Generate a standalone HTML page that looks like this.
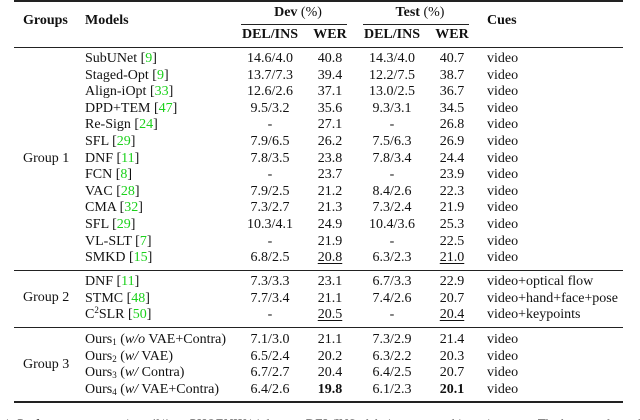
<!DOCTYPE html>
<html><head><meta charset="utf-8">
<style>
html,body{margin:0;padding:0;background:#fff;}
#t{position:relative;width:640px;height:420px;overflow:hidden;font-family:"Liberation Serif",serif;font-size:14px;color:#111;}
.c{position:absolute;line-height:16px;white-space:nowrap;}
.ctr{transform:translateX(-50%);}
.r{position:absolute;left:14px;width:609px;background:#222;}
.g{color:#1bd11b;}
b{font-weight:bold;}
u{text-decoration:underline;text-underline-offset:2px;}
sub{font-size:9px;vertical-align:-2px;line-height:0;}
sup{font-size:9px;vertical-align:5px;line-height:0;}
</style></head><body>
<div id="t">
<div class="r" style="top:0;height:2px"></div>
<div class="r" style="top:47px;height:1px"></div>
<div class="r" style="top:270px;height:1px"></div>
<div class="r" style="top:327px;height:1px"></div>
<div class="r" style="top:401px;height:2px"></div>
<div style="position:absolute;top:24px;left:241px;width:106px;height:1px;background:#222"></div>
<div style="position:absolute;top:24px;left:363px;width:106px;height:1px;background:#222"></div>
<div class="c" style="left:23px;top:13px"><b>Groups</b></div>
<div class="c" style="left:85px;top:13px"><b>Models</b></div>
<div class="c ctr" style="left:298px;top:5px"><b>Dev</b> (%)</div>
<div class="c ctr" style="left:420px;top:5px"><b>Test</b> (%)</div>
<div class="c ctr" style="left:270px;top:27px"><b>DEL/INS</b></div>
<div class="c ctr" style="left:330px;top:27px"><b>WER</b></div>
<div class="c ctr" style="left:392px;top:27px"><b>DEL/INS</b></div>
<div class="c ctr" style="left:452px;top:27px"><b>WER</b></div>
<div class="c" style="left:487px;top:13px"><b>Cues</b></div>
<div class="c" style="left:23px;top:151px">Group 1</div>
<div class="c" style="left:23px;top:290px">Group 2</div>
<div class="c" style="left:23px;top:357px">Group 3</div>
<div class="c" style="left:4px;top:416px;font-size:13px">1: Performance comparison (%) on PHOENIX14 dataset. DEL/INS: deletion error and insertion error. The best results and the second best</div>
</div>
<script>
const models=['SubUNet <span class="g">9</span>','Staged-Opt <span class="g">9</span>','Align-iOpt <span class="g">33</span>','DPD+TEM <span class="g">47</span>','Re-Sign <span class="g">24</span>','SFL <span class="g">29</span>','DNF <span class="g">11</span>','FCN <span class="g">8</span>','VAC <span class="g">28</span>','CMA <span class="g">32</span>','SFL <span class="g">29</span>','VL-SLT <span class="g">7</span>','SMKD <span class="g">15</span>',
'DNF <span class="g">11</span>','STMC <span class="g">48</span>','C<sup>2</sup>SLR <span class="g">50</span>',
'Ours<sub>1</sub> (<i>w/o</i> VAE+Contra)','Ours<sub>2</sub> (<i>w/</i> VAE)','Ours<sub>3</sub> (<i>w/</i> Contra)','Ours<sub>4</sub> (<i>w/</i> VAE+Contra)'];
const devDI=['14.6/4.0','13.7/7.3','12.6/2.6','9.5/3.2','-','7.9/6.5','7.8/3.5','-','7.9/2.5','7.3/2.7','10.3/4.1','-','6.8/2.5','7.3/3.3','7.7/3.4','-','7.1/3.0','6.5/2.4','6.7/2.7','6.4/2.6'];
const devWER=['40.8','39.4','37.1','35.6','27.1','26.2','23.8','23.7','21.2','21.3','24.9','21.9','<u>20.8</u>','23.1','21.1','<u>20.5</u>','21.1','20.2','20.4','<b>19.8</b>'];
const testDI=['14.3/4.0','12.2/7.5','13.0/2.5','9.3/3.1','-','7.5/6.3','7.8/3.4','-','8.4/2.6','7.3/2.4','10.4/3.6','-','6.3/2.3','6.7/3.3','7.4/2.6','-','7.3/2.9','6.3/2.2','6.4/2.5','6.1/2.3'];
const testWER=['40.7','38.7','36.7','34.5','26.8','26.9','24.4','23.9','22.3','21.9','25.3','22.5','<u>21.0</u>','22.9','20.7','<u>20.4</u>','21.4','20.3','20.7','<b>20.1</b>'];
const cues=['video','video','video','video','video','video','video','video','video','video','video','video','video','video+optical flow','video+hand+face+pose','video+keypoints','video','video','video','video'];
const ys=[];
for(let i=0;i<13;i++)ys.push(59+i*16.6);
for(let i=0;i<3;i++)ys.push(282+i*16.6);
for(let i=0;i<4;i++)ys.push(340+i*16.7);
const host=document.getElementById('t');
function cell(html,x,y,center,name){
  const d=document.createElement('div');
  d.className='c'+(center?' ctr':'');
  d.style.left=x+'px';d.style.top=(y-8)+'px';
  d.innerHTML=html;
  
  
  host.appendChild(d);
}
models.forEach((m,i)=>{
  const y=ys[i];
  cell(m.replace(/<span class="g">(\d+)<\/span>/,'[<span class="g">$1</span>]'),85,y,false,'model-name');
  cell(devDI[i],270,y,true,'dev-del-ins');
  cell(devWER[i],330,y,true,'dev-wer');
  cell(testDI[i],392,y,true,'test-del-ins');
  cell(testWER[i],452,y,true,'test-wer');
  cell(cues[i],487,y,false,'cues');
});
</script>
</body></html>
